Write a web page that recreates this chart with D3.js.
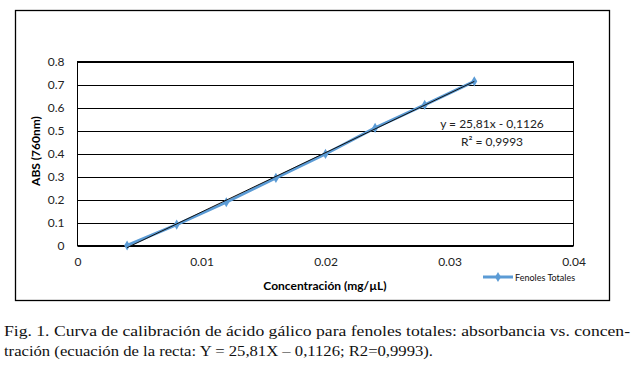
<!DOCTYPE html>
<html><head><meta charset="utf-8">
<script src="https://cdn.jsdelivr.net/npm/d3@7"></script>
<style>body{margin:0;background:#fff}svg{display:block}</style>
</head><body>
<svg id="c" width="634" height="375"></svg>
<script>
const concentration = [0.004, 0.008, 0.012, 0.016, 0.020, 0.024, 0.028, 0.032];
const absorbance = [0.000, 0.091, 0.188, 0.294, 0.398, 0.511, 0.611, 0.714];
const xTicks = [0, 0.01, 0.02, 0.03, 0.04];
const yTicks = [0, 0.1, 0.2, 0.3, 0.4, 0.5, 0.6, 0.7, 0.8];
const slope = 25.81, intercept = -0.1126;
const seriesName = "Fenoles Totales";
const eqText = "y = 25,81x - 0,1126";
const r2Text = "R² = 0,9993";
const xTitle = "Concentración (mg/µL)";
const yTitle = "ABS (760nm)";
const caption1 = "Fig. 1. Curva de calibración de ácido gálico para fenoles totales: absorbancia vs. concen-";
const caption2 = "tración (ecuación de la recta: Y = 25,81X – 0,1126; R2=0,9993).";

const svg = d3.select("#c");
const font = "Lato, 'Open Sans', sans-serif";
const L = 77.5, R = 573.5, T = 61.5, B = 245.5;
const x = d3.scaleLinear().domain([0, 0.04]).range([L, R]);
const y = d3.scaleLinear().domain([0, 0.8]).range([B, T]);

// outer border
svg.append("rect").attr("x", 15.5).attr("y", 10.5).attr("width", 594).attr("height", 290)
  .attr("fill", "none").attr("stroke", "#000").attr("stroke-width", 1.3);

// gridlines
svg.append("g").selectAll("line").data(yTicks).join("line")
  .attr("x1", L).attr("x2", R).attr("y1", d => Math.round(y(d)) + 0.5).attr("y2", d => Math.round(y(d)) + 0.5)
  .attr("stroke", "#000").attr("stroke-width", 1);
svg.append("rect").attr("x", L).attr("y", T).attr("width", R - L).attr("height", B - T)
  .attr("fill", "none").attr("stroke", "#000").attr("stroke-width", 1);

// y tick labels
const yAxis = d3.axisLeft(y).tickValues(yTicks).tickSize(0).tickPadding(13).tickFormat(d => d === 0 ? "0" : d3.format(".1f")(d));
const gy = svg.append("g").attr("transform", `translate(${L},0)`).call(yAxis);
gy.select(".domain").remove();
gy.selectAll("text").attr("font-family", font).attr("font-size", 12).attr("fill", "#222");

// x tick labels
const xAxis = d3.axisBottom(x).tickValues(xTicks).tickSize(0).tickPadding(12).tickFormat(d => d === 0 ? "0" : String(+d.toFixed(2)));
const gx = svg.append("g").attr("transform", `translate(0,${B})`).call(xAxis);
gx.select(".domain").remove();
gx.selectAll("text").attr("font-family", font).attr("font-size", 12).attr("fill", "#222");

// axis titles
svg.append("text").attr("x", 325).attr("y", 290).attr("text-anchor", "middle")
  .attr("font-family", font).attr("font-weight", "bold").attr("font-size", 12).text(xTitle);
svg.append("text").attr("transform", "translate(40,151) rotate(-90)").attr("text-anchor", "middle")
  .attr("font-family", font).attr("font-weight", "bold").attr("font-size", 12).text(yTitle);

// series
const pts = concentration.map((c, i) => [c, absorbance[i]]);
const blue = "#5b9bd5";
svg.append("path").datum(pts)
  .attr("d", d3.line().x(d => x(d[0])).y(d => y(d[1])))
  .attr("fill", "none").attr("stroke", blue).attr("stroke-width", 3);
const diamond = d3.symbol().type(d3.symbolDiamond).size(30);
svg.append("g").selectAll("path").data(pts).join("path")
  .attr("transform", d => `translate(${x(d[0])},${y(d[1])})`)
  .attr("d", diamond).attr("fill", blue);

// trendline
const x0 = concentration[0], x1 = concentration[concentration.length - 1];
svg.append("line").attr("x1", x(x0)).attr("y1", y(slope * x0 + intercept))
  .attr("x2", x(x1)).attr("y2", y(slope * x1 + intercept))
  .attr("stroke", "#111").attr("stroke-width", 1);

// equation
svg.append("text").attr("x", 492).attr("y", 128).attr("text-anchor", "middle")
  .attr("font-family", font).attr("font-size", 12).attr("fill", "#222").text(eqText);
svg.append("text").attr("x", 492).attr("y", 146).attr("text-anchor", "middle")
  .attr("font-family", font).attr("font-size", 12).attr("fill", "#222").text(r2Text);

// legend
svg.append("line").attr("x1", 483).attr("x2", 513).attr("y1", 277).attr("y2", 277)
  .attr("stroke", blue).attr("stroke-width", 3);
svg.append("path").attr("transform", "translate(498,277)").attr("d", diamond).attr("fill", blue);
svg.append("text").attr("x", 515).attr("y", 280.5).attr("font-family", font).attr("font-size", 9)
  .attr("fill", "#111").text(seriesName);

// caption
const serif = "'Liberation Serif', 'DejaVu Serif', serif";
svg.append("text").attr("x", 4).attr("y", 336).attr("font-family", serif).attr("font-size", 14.5)
  .attr("textLength", 626).attr("lengthAdjust", "spacingAndGlyphs").attr("fill", "#111").text(caption1);
svg.append("text").attr("x", 4).attr("y", 356).attr("font-family", serif).attr("font-size", 14.5)
  .attr("textLength", 429).attr("lengthAdjust", "spacingAndGlyphs").attr("fill", "#111").text(caption2);
</script>
</body></html>
